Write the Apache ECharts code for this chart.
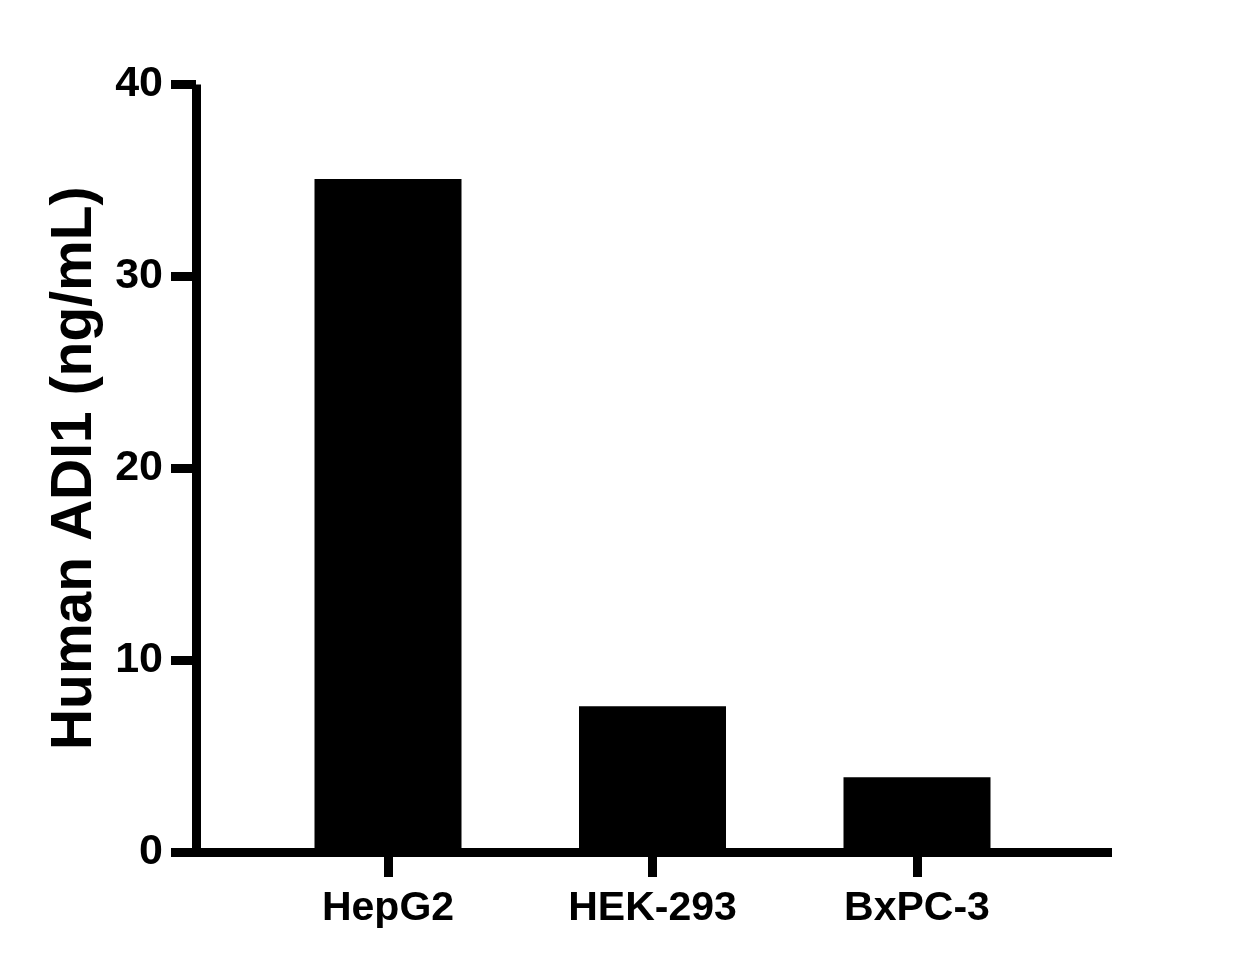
<!DOCTYPE html>
<html>
<head>
<meta charset="utf-8">
<script src="https://cdn.jsdelivr.net/npm/echarts@6/dist/echarts.min.js"></script>
<style>
html,body{margin:0;padding:0;background:#fff;}
#chart{width:1246px;height:972px;}
</style>
</head>
<body>
<div id="chart"></div>
<script>
const categories = ['HepG2', 'HEK-293', 'BxPC-3'];
const values = [35.07, 7.6, 3.9];
const yTicks = [0, 10, 20, 30, 40];
const yTitle = 'Human ADI1 (ng/mL)';

const FONT = '"Liberation Sans", Arial, sans-serif';
const chart = echarts.init(document.getElementById('chart'), null, {renderer: 'canvas'});
const option = {
  backgroundColor: '#fff',
  animation: false,
  grid: [
    {left: 255.75, right: 196.75, top: 84.5, bottom: 120},
    {left: 196, right: 134, top: 84.5, bottom: 120}
  ],
  xAxis: [
    {
      type: 'category', gridIndex: 0, data: categories,
      axisLine: {show: false},
      axisTick: {show: true, length: 25, alignWithLabel: true, lineStyle: {color: '#000', width: 9, cap: 'butt'}},
      axisLabel: {color: '#000', fontFamily: FONT, fontWeight: 'bold', fontSize: 41, margin: 36}
    },
    {
      type: 'value', gridIndex: 1, min: 0, max: 1,
      axisLine: {show: true, lineStyle: {color: '#000', width: 9, cap: 'butt'}},
      axisTick: {show: false}, axisLabel: {show: false}, splitLine: {show: false}
    }
  ],
  yAxis: [
    {
      type: 'value', gridIndex: 0, min: yTicks[0], max: yTicks[yTicks.length - 1], interval: 10,
      offset: 59.75,
      name: yTitle, nameLocation: 'middle', nameGap: 83, nameRotate: 90,
      nameTextStyle: {color: '#000', fontFamily: FONT, fontWeight: 'bold', fontSize: 57},
      axisLine: {show: true, lineStyle: {color: '#000', width: 9, cap: 'butt'}},
      axisTick: {show: true, length: 25, lineStyle: {color: '#000', width: 9, cap: 'butt'}},
      axisLabel: {color: '#000', fontFamily: FONT, fontWeight: 'bold', fontSize: 43, margin: 33},
      splitLine: {show: false}
    },
    {
      type: 'value', gridIndex: 1, min: 0, max: 40, show: false
    }
  ],
  series: [
    {
      type: 'bar', xAxisIndex: 0, yAxisIndex: 0, data: values,
      barWidth: 147, itemStyle: {color: '#000'}
    }
  ]
};
chart.setOption(option);
</script>
</body>
</html>
